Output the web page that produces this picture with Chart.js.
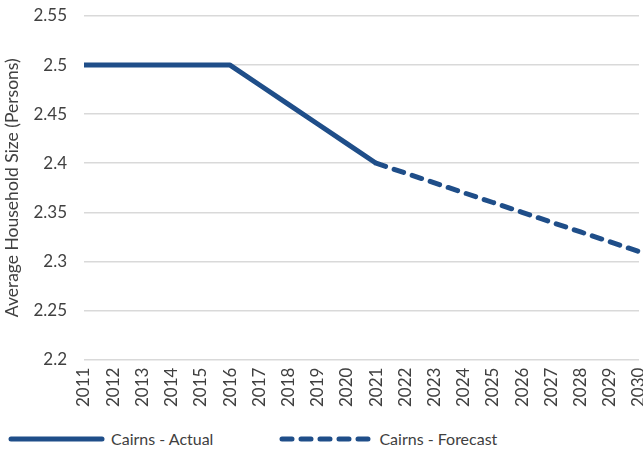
<!DOCTYPE html>
<html>
<head>
<meta charset="utf-8">
<script src="https://cdn.jsdelivr.net/npm/chart.js@4"></script>
<style>
  html, body { margin: 0; padding: 0; background: #fff; }
  body { width: 643px; height: 459px; overflow: hidden; font-family: Lato, "Open Sans", sans-serif; }
  .wrap { position: relative; width: 643px; height: 415px; }
  .legend { position: absolute; top: 429px; left: 8px; display: flex; align-items: center; font-size: 16px; color: #404040; }
  .legend-item { display: flex; align-items: center; }
  .legend-item svg { margin-right: 6px; }
  .legend-item + .legend-item { margin-left: 66px; }
</style>
</head>
<body>
<div class="wrap"><canvas id="chart"></canvas></div>
<div class="legend" id="legend"></div>
<script>
const YEARS = ["2011", "2012", "2013", "2014", "2015", "2016", "2017", "2018", "2019", "2020",
  "2021", "2022", "2023", "2024", "2025", "2026", "2027", "2028", "2029", "2030"];
const ACTUAL = [2.5, 2.5, 2.5, 2.5, 2.5, 2.5, 2.48, 2.46, 2.44, 2.42, 2.40,
  null, null, null, null, null, null, null, null, null];
const FORECAST = [null, null, null, null, null, null, null, null, null, null,
  2.40, 2.39, 2.38, 2.37, 2.36, 2.35, 2.34, 2.33, 2.32, 2.31];
const SERIES_LABELS = ["Cairns - Actual", "Cairns - Forecast"];
const BLUE = "#1F4E89";
const DASH = [10, 9];

Chart.defaults.font.family = "Lato, 'Open Sans', sans-serif";
Chart.defaults.color = "#404040";

new Chart(document.getElementById("chart"), {
  type: "line",
  data: {
    labels: YEARS,
    datasets: [
      {
        label: SERIES_LABELS[0],
        data: ACTUAL,
        borderColor: BLUE,
        borderWidth: 5,
        pointRadius: 0,
        tension: 0,
        borderJoinStyle: "round",
      },
      {
        label: SERIES_LABELS[1],
        data: FORECAST,
        borderColor: BLUE,
        borderWidth: 5,
        borderDash: DASH,
        borderCapStyle: "round",
        pointRadius: 0,
        tension: 0,
      },
    ],
  },
  options: {
    responsive: true,
    maintainAspectRatio: false,
    animation: false,
    layout: { padding: 0 },
    plugins: { legend: { display: false }, tooltip: { enabled: false } },
    scales: {
      x: {
        offset: false,
        afterFit: (s) => { s.paddingRight = 4; },
        grid: { display: false, drawTicks: false },
        border: { display: false },
        ticks: { minRotation: 90, maxRotation: 90, autoSkip: false, padding: 8, font: { size: 17 } },
      },
      y: {
        min: 2.2,
        max: 2.55,
        afterFit: (s) => { s.width = 84; s.paddingTop = 16; },
        afterBuildTicks: (s) => {
          s.ticks = [];
          for (let i = 0; i <= 7; i++) s.ticks.push({ value: +(2.2 + i * 0.05).toFixed(2) });
        },
        grid: { color: "#D9D9D9", lineWidth: 1.5, drawTicks: false },
        border: { display: false },
        ticks: { padding: 17, font: { size: 17 }, callback: (v) => String(+v.toFixed(2)) },
        title: { display: true, text: "Average Household Size (Persons)", font: { size: 17.5 }, padding: { top: 2, bottom: 0 } },
      },
    },
  },
});

// legend built from the dataset labels
const legend = document.getElementById("legend");
SERIES_LABELS.forEach((label, i) => {
  const item = document.createElement("div");
  item.className = "legend-item";
  const dash = i === 1 ? ` stroke-dasharray="${DASH.join(" ")}"` : "";
  const w = i === 0 ? 97 : 94;
  item.innerHTML = `<svg width="${w}" height="10"><line x1="3" y1="5" x2="${w - 3}" y2="5" stroke="${BLUE}" stroke-width="5" stroke-linecap="round"${dash}/></svg><span>${label}</span>`;
  legend.appendChild(item);
});
</script>
</body>
</html>
